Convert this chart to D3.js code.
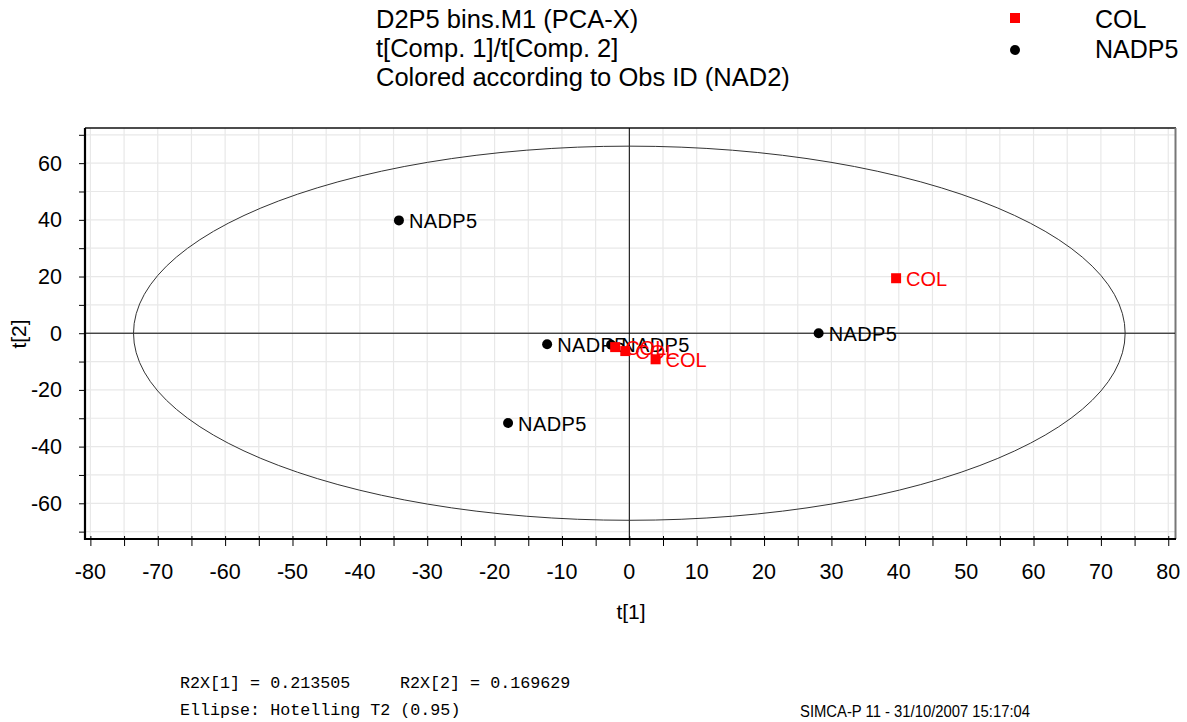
<!DOCTYPE html>
<html>
<head>
<meta charset="utf-8">
<script src="https://cdn.jsdelivr.net/npm/d3@7"></script>
<style>
  body { margin: 0; background: #fff; }
  svg { display: block; font-family: Arial, "Liberation Sans", sans-serif; }
</style>
</head>
<body>
<svg id="chart"></svg>
<script>
// score plot values
let colX = [39.6, -2.1, -0.6, 3.9];
let colY = [19.4, -4.9, -6.3, -9.2];
let nadX = [-34.2, -12.2, -18.0, 28.1, -2.7];
let nadY = [39.8, -3.9, -31.7, 0.0, -4.1];

let xLabels = [-80, -70, -60, -50, -40, -30, -20, -10, 0, 10, 20, 30, 40, 50, 60, 70, 80];
let yLabels = [-60, -40, -20, 0, 20, 40, 60];

let titleLines = ["D2P5 bins.M1 (PCA-X)", "t[Comp. 1]/t[Comp. 2]", "Colored according to Obs ID (NAD2)"];
let ellipseA = 73.6, ellipseB = 66.0; // Hotelling T2 radii

let W = 1187, H = 722;
let svg = d3.select("#chart").attr("width", W).attr("height", H);

let x = d3.scaleLinear().domain([-80.8, 81.0]).range([85, 1175]);
let y = d3.scaleLinear().domain([-72.6, 72.4]).range([539, 128]);

// grid
let g = svg.append("g");
g.selectAll("line.vx")
  .data(d3.range(-80, 81, 5))
  .enter().append("line")
  .attr("x1", d => x(d)).attr("x2", d => x(d))
  .attr("y1", y.range()[1]).attr("y2", y.range()[0])
  .attr("stroke", "#e8e8e8").attr("stroke-width", 1.2);
g.selectAll("line.hy")
  .data(d3.range(-70, 71, 10))
  .enter().append("line")
  .attr("x1", x.range()[0]).attr("x2", x.range()[1])
  .attr("y1", d => y(d)).attr("y2", d => y(d))
  .attr("stroke", "#e8e8e8").attr("stroke-width", 1.2);

// frame top / right
svg.append("line").attr("x1", 85).attr("x2", 1176).attr("y1", 128).attr("y2", 128)
  .attr("stroke", "#111").attr("stroke-width", 1.5);
svg.append("line").attr("x1", 1175.5).attr("x2", 1175.5).attr("y1", 128).attr("y2", 539)
  .attr("stroke", "#777").attr("stroke-width", 2);

// crosshair
svg.append("line").attr("x1", x(0)).attr("x2", x(0)).attr("y1", 128).attr("y2", 539)
  .attr("stroke", "#000").attr("stroke-width", 1);
svg.append("line").attr("x1", 85).attr("x2", 1175).attr("y1", y(0)).attr("y2", y(0))
  .attr("stroke", "#000").attr("stroke-width", 1);

// ellipse
let ang = d3.range(0, 361, 3);
svg.append("path")
  .datum(ang)
  .attr("d", d3.line()
    .x(d => x(ellipseA * Math.cos(d * Math.PI / 180)))
    .y(d => y(ellipseB * Math.sin(d * Math.PI / 180))))
  .attr("fill", "none").attr("stroke", "#333").attr("stroke-width", 1);

// axes
let xAxis = d3.axisBottom(x).tickValues(d3.range(-80, 81, 5)).tickSize(7).tickFormat("");
let gx = svg.append("g").attr("transform", "translate(0,539)").call(xAxis);
gx.select(".domain").attr("d", "M84,0H1176").attr("stroke-width", 2.2);
gx.selectAll(".tick line").attr("y1", -3);

let yAxis = d3.axisLeft(y).tickValues(d3.range(-70, 71, 10)).tickSize(6).tickFormat("");
let gy = svg.append("g").attr("transform", "translate(85,0)").call(yAxis);
gy.select(".domain").attr("d", "M0,128V540").attr("stroke-width", 2.2);

svg.selectAll("text.xl")
  .data(xLabels)
  .enter().append("text")
  .attr("x", d => x(d)).attr("y", 579)
  .attr("text-anchor", "middle").attr("font-size", 21.5)
  .text(d => d);
svg.selectAll("text.yl")
  .data(yLabels)
  .enter().append("text")
  .attr("x", 62).attr("y", d => y(d) + 7.5)
  .attr("text-anchor", "end").attr("font-size", 21.5)
  .text(d => d);

svg.append("text").attr("x", 631).attr("y", 619).attr("text-anchor", "middle")
  .attr("font-size", 21).text("t[1]");
svg.append("text").attr("transform", "translate(26,334) rotate(-90)").attr("text-anchor", "middle")
  .attr("font-size", 21).text("t[2]");

// points
let nad = nadX.map((d, i) => ({ x: d, y: nadY[i] }));
let col = colX.map((d, i) => ({ x: d, y: colY[i] }));

svg.selectAll("circle.nad")
  .data(nad)
  .enter().append("circle")
  .attr("cx", d => x(d.x)).attr("cy", d => y(d.y)).attr("r", 5)
  .attr("fill", "#000");
svg.selectAll("text.nad")
  .data(nad)
  .enter().append("text")
  .attr("x", d => x(d.x) + 10).attr("y", d => y(d.y) + 7.5)
  .attr("font-size", 20).attr("letter-spacing", 0.4)
  .text("NADP5");

svg.selectAll("rect.col")
  .data(col)
  .enter().append("rect")
  .attr("x", d => x(d.x) - 5).attr("y", d => y(d.y) - 5)
  .attr("width", 10).attr("height", 10)
  .attr("fill", "#f00");
svg.selectAll("text.col")
  .data(col)
  .enter().append("text")
  .attr("x", d => x(d.x) + 10).attr("y", d => y(d.y) + 7.5)
  .attr("font-size", 20).attr("fill", "#f00")
  .text("COL");

// title
svg.selectAll("text.title")
  .data(titleLines)
  .enter().append("text")
  .attr("x", 376).attr("y", (d, i) => 28 + i * 29)
  .attr("font-size", 25.5)
  .text(d => d);

// legend
svg.append("rect").attr("x", 1010).attr("y", 13).attr("width", 10).attr("height", 10).attr("fill", "#f00");
svg.append("circle").attr("cx", 1015).attr("cy", 50).attr("r", 5).attr("fill", "#000");
svg.append("text").attr("x", 1095).attr("y", 28).attr("font-size", 25).text("COL");
svg.append("text").attr("x", 1095).attr("y", 58).attr("font-size", 25).text("NADP5");

// footer
let mono = "'Liberation Mono', 'DejaVu Sans Mono', monospace";
svg.append("text").attr("x", 180).attr("y", 688).attr("font-family", mono).attr("font-size", 16.7)
  .text("R2X[1] = 0.213505");
svg.append("text").attr("x", 400).attr("y", 688).attr("font-family", mono).attr("font-size", 16.7)
  .text("R2X[2] = 0.169629");
svg.append("text").attr("x", 180).attr("y", 715).attr("font-family", mono).attr("font-size", 16.7)
  .text("Ellipse: Hotelling T2 (0.95)");
svg.append("text").attr("x", 800).attr("y", 717).attr("font-size", 16)
  .attr("textLength", 230).attr("lengthAdjust", "spacingAndGlyphs")
  .text("SIMCA-P 11 - 31/10/2007 15:17:04");
</script>
</body>
</html>
